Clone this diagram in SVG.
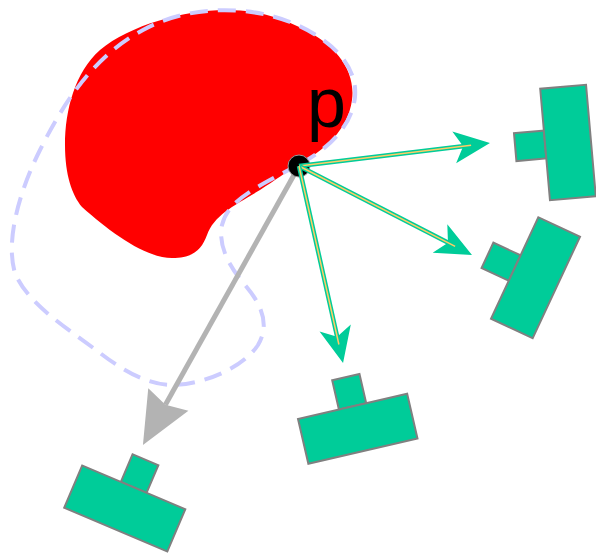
<svg xmlns="http://www.w3.org/2000/svg" xmlns:xlink="http://www.w3.org/1999/xlink" width="596" height="554" viewBox="0 0 596 554">
  <style>
    .tool { fill: #00cc99; stroke: #808080; stroke-width: 2; }
    .region { fill: #ff0000; stroke: none; }
    .hull { fill: none; stroke: #ccccff; stroke-width: 4; stroke-dasharray: 18 10; }
    .ray { fill: none; stroke: #00cc99; stroke-width: 4.5; }
    .ray-core { fill: none; stroke: #ffcc66; stroke-width: 1.5; }
    .blocked { fill: none; stroke: #b3b3b3; stroke-width: 5; }
    .label { font-family: "Liberation Sans", Arial, sans-serif; font-size: 70px; fill: #000000; }
  </style>
  <defs>
    <!-- T-shaped tool: body plus a stub on its local -x side -->
    <g id="tool">
      <rect class="tool" x="-53" y="-14" width="30" height="28"/>
      <rect class="tool" x="-23" y="-56" width="46" height="112"/>
    </g>
    <marker id="head-green" markerUnits="userSpaceOnUse" orient="auto" refX="0" refY="0"
            viewBox="-20 -20 45 40" markerWidth="45" markerHeight="40" overflow="visible">
      <path d="M19,0 L-17,-16 L-8,0 L-17,16 Z" fill="#00cc99"/>
    </marker>
    <marker id="head-grey" markerUnits="userSpaceOnUse" orient="auto" refX="0" refY="0"
            viewBox="-10 -25 60 50" markerWidth="60" markerHeight="50" overflow="visible">
      <path d="M46,0 L-6,-23 L0,0 L-6,23 Z" fill="#b3b3b3"/>
    </marker>
  </defs>

  <!-- red region -->
  <g id="region">
    <path class="region" d="M 296,166
      C 325,150 348,130 352,100
      C 356,70 335,45 305,30
      C 275,14 250,10 225,10
      C 185,10 130,25 100,50
      C 75,72 65,110 65,145
      C 65,175 72,195 82,207
      C 110,232 145,258 172,258
      C 195,258 202,248 207,235
      C 214,215 235,205 260,190
      C 275,180 287,172 296,166 Z"/>
  </g>

  <!-- dashed outline -->
  <g id="hull">
    <path class="hull" d="M 300,164
      C 330,148 352,125 355,97
      C 358,65 330,38 290,22
      C 250,6 190,4 143,30
      C 90,58 60,110 40,150
      C 20,190 5,240 15,273
      C 28,305 70,330 100,353
      C 125,372 150,386 175,385
      C 210,383 245,365 258,345
      C 270,325 262,305 245,285
      C 228,265 218,245 222,225
      C 228,200 255,188 300,164 Z"/>
  </g>

  <!-- tools -->
  <g id="tool-right-top"><use xlink:href="#tool" href="#tool" transform="translate(568,142.5) rotate(-5)"/></g>
  <g id="tool-right-mid"><use xlink:href="#tool" href="#tool" transform="translate(535.5,277.75) rotate(25)"/></g>
  <g id="tool-bottom-mid"><use xlink:href="#tool" href="#tool" transform="translate(357.75,428.75) rotate(77)"/></g>
  <g id="tool-bottom-left"><use xlink:href="#tool" href="#tool" transform="translate(124.75,508.5) rotate(113)"/></g>

  <!-- connectors -->
  <g id="connectors">
    <line class="blocked" x1="299" y1="166" x2="165.4" y2="404.8" marker-end="url(#head-grey)"/>
    <g id="point-p">
      <circle cx="299" cy="166" r="11" fill="#000000" stroke="#999999" stroke-width="1"/>
    </g>
    <line class="ray" x1="299" y1="166" x2="471.1" y2="145.3" marker-end="url(#head-green)"/>
    <line class="ray-core" x1="299" y1="166" x2="471.1" y2="145.3"/>
    <line class="ray" x1="299" y1="166" x2="455.1" y2="246.3" marker-end="url(#head-green)"/>
    <line class="ray-core" x1="299" y1="166" x2="455.1" y2="246.3"/>
    <line class="ray" x1="299" y1="166" x2="338.9" y2="344.5" marker-end="url(#head-green)"/>
    <line class="ray-core" x1="299" y1="166" x2="338.9" y2="344.5"/>
  </g>

  <text class="label" x="307" y="127">p</text>
</svg>
